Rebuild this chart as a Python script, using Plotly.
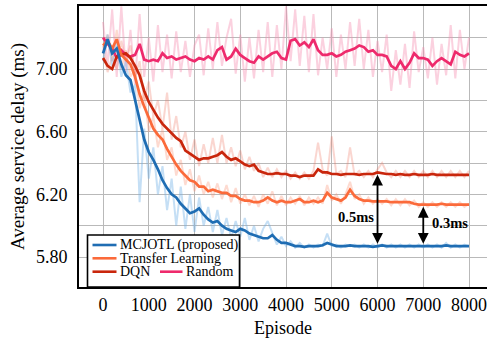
import plotly.graph_objects as go

# ---------------- data ----------------
EPISODES = list(range(0, 8001, 100))

mcjotl = [
    7.10, 7.19, 7.10, 7.13, 7.03, 6.96, 6.93, 6.80, 6.68, 6.55,
    6.47, 6.42, 6.36, 6.29, 6.24, 6.20, 6.18, 6.14, 6.11, 6.08,
    6.09, 6.11, 6.07, 6.04, 6.02, 6.03, 6.00, 5.98, 5.97, 5.96,
    5.98, 5.97, 5.95, 5.94, 5.93, 5.92, 5.92, 5.94, 5.91, 5.89,
    5.89, 5.88, 5.87, 5.87, 5.865, 5.87, 5.87, 5.87, 5.875, 5.89,
    5.88, 5.87, 5.87, 5.87, 5.875, 5.87, 5.87, 5.87, 5.87, 5.865,
    5.87, 5.875, 5.87, 5.87, 5.87, 5.87, 5.87, 5.87, 5.87, 5.87,
    5.87, 5.87, 5.87, 5.87, 5.87, 5.875, 5.87, 5.87, 5.87, 5.87, 5.87,
]
transfer = [
    7.15, 7.18, 7.13, 7.19, 7.09, 7.06, 7.03, 6.95, 6.84, 6.76,
    6.69, 6.62, 6.58, 6.55, 6.49, 6.44, 6.39, 6.35, 6.32, 6.29,
    6.28, 6.25, 6.25, 6.22, 6.23, 6.22, 6.21, 6.21, 6.19, 6.19,
    6.17, 6.16, 6.16, 6.15, 6.15, 6.16, 6.18, 6.16, 6.15, 6.16,
    6.15, 6.15, 6.16, 6.17, 6.15, 6.15, 6.16, 6.15, 6.16, 6.21,
    6.18, 6.17, 6.16, 6.18, 6.23, 6.19, 6.17, 6.16, 6.16, 6.155,
    6.155, 6.155, 6.155, 6.15, 6.15, 6.15, 6.15, 6.15, 6.14, 6.135,
    6.135, 6.135, 6.135, 6.135, 6.14, 6.135, 6.135, 6.135, 6.135, 6.135, 6.135,
]
dqn = [
    7.07, 7.02, 7.00, 7.08, 7.09, 7.10, 7.07, 7.02, 6.96, 6.86,
    6.79, 6.74, 6.69, 6.65, 6.62, 6.59, 6.56, 6.54, 6.48, 6.46,
    6.44, 6.42, 6.43, 6.43, 6.44, 6.45, 6.47, 6.44, 6.42, 6.43,
    6.41, 6.39, 6.38, 6.39, 6.35, 6.34, 6.33, 6.33, 6.335, 6.33,
    6.33, 6.32, 6.32, 6.31, 6.32, 6.32, 6.32, 6.36, 6.34, 6.34,
    6.33, 6.33, 6.325, 6.33, 6.33, 6.33, 6.325, 6.33, 6.33, 6.33,
    6.34, 6.335, 6.33, 6.33, 6.325, 6.33, 6.325, 6.325, 6.33, 6.325,
    6.325, 6.325, 6.33, 6.325, 6.325, 6.325, 6.325, 6.325, 6.325, 6.325, 6.325,
]
random_policy = [
    7.20, 7.16, 7.13, 7.07, 7.12, 7.09, 7.08, 7.09, 7.16, 7.06,
    7.05, 7.06, 7.05, 7.10, 7.07, 7.08, 7.06, 7.07, 7.08, 7.06,
    7.05, 7.07, 7.06, 7.08, 7.06, 7.12, 7.14, 7.06, 7.08, 7.13,
    7.09, 7.07, 7.05, 7.04, 7.08, 7.06, 7.08, 7.10, 7.11, 7.07,
    7.06, 7.18, 7.19, 7.15, 7.17, 7.14, 7.19, 7.12, 7.09, 7.09,
    7.10, 7.08, 7.09, 7.11, 7.12, 7.13, 7.15, 7.14, 7.11, 7.12,
    7.09, 7.09, 7.08, 7.02, 7.00, 7.05, 7.00, 7.04, 7.10, 7.07,
    7.07, 7.06, 7.02, 7.05, 7.07, 7.05, 7.03, 7.11, 7.09, 7.08, 7.10,
]

# raw (unsmoothed) curves drawn faintly behind
raw_mcjotl = [
    7.05, 7.22, 7.02, 7.18, 6.95, 7.05, 6.85, 6.90, 6.15, 6.62,
    6.30, 6.50, 6.20, 6.38, 6.10, 6.30, 6.00, 6.25, 5.98, 6.20,
    5.96, 6.18, 6.00, 6.12, 5.96, 6.10, 5.94, 6.05, 5.92, 6.03,
    5.93, 6.05, 5.91, 6.00, 5.90, 5.98, 6.03, 5.96, 5.88, 5.93,
    5.87, 5.90, 5.86, 5.89, 5.86, 5.88, 5.86, 5.88, 5.87, 5.95,
    5.87, 5.88, 5.86, 5.88, 5.87, 5.88, 5.86, 5.88, 5.86, 5.88,
    5.86, 5.88, 5.86, 5.88, 5.86, 5.88, 5.86, 5.88, 5.86, 5.88,
    5.86, 5.88, 5.86, 5.88, 5.86, 5.89, 5.86, 5.88, 5.86, 5.88, 5.87,
]
raw_transfer = [
    7.10, 7.22, 7.05, 7.25, 7.00, 7.12, 6.95, 7.00, 6.75, 6.85,
    6.60, 6.70, 6.50, 6.62, 6.42, 6.50, 6.32, 6.42, 6.26, 6.36,
    6.22, 6.32, 6.20, 6.28, 6.18, 6.27, 6.17, 6.26, 6.15, 6.24,
    6.14, 6.20, 6.13, 6.19, 6.12, 6.20, 6.14, 6.22, 6.13, 6.19,
    6.13, 6.18, 6.14, 6.19, 6.13, 6.18, 6.14, 6.18, 6.14, 6.26,
    6.16, 6.20, 6.14, 6.20, 6.28, 6.17, 6.20, 6.14, 6.18, 6.14,
    6.17, 6.14, 6.17, 6.13, 6.17, 6.13, 6.17, 6.13, 6.16, 6.12,
    6.15, 6.12, 6.15, 6.12, 6.15, 6.12, 6.15, 6.12, 6.15, 6.12, 6.14,
]
raw_dqn = [
    7.15, 6.98, 7.08, 7.00, 7.18, 7.05, 7.15, 6.95, 7.05, 6.80,
    6.92, 6.70, 6.80, 6.62, 6.85, 6.55, 6.70, 6.50, 6.60, 6.42,
    6.55, 6.38, 6.52, 6.40, 6.56, 6.40, 6.58, 6.40, 6.50, 6.38,
    6.48, 6.36, 6.44, 6.35, 6.40, 6.31, 6.37, 6.31, 6.36, 6.31,
    6.35, 6.30, 6.34, 6.30, 6.34, 6.30, 6.35, 6.53, 6.36, 6.32,
    6.57, 6.33, 6.35, 6.31, 6.50, 6.32, 6.35, 6.31, 6.35, 6.31,
    6.36, 6.40, 6.34, 6.31, 6.35, 6.31, 6.35, 6.31, 6.35, 6.31,
    6.35, 6.31, 6.35, 6.31, 6.35, 6.31, 6.35, 6.31, 6.35, 6.31, 6.35,
]
raw_random = [
    7.30, 7.02, 7.38, 6.95, 7.40, 6.98, 7.25, 6.90, 7.35, 6.95,
    7.20, 6.92, 7.28, 6.98, 7.22, 6.94, 7.24, 6.98, 7.18, 6.95,
    7.15, 7.22, 6.96, 7.26, 7.00, 7.30, 7.02, 7.20, 7.32, 6.97,
    7.22, 6.92, 7.20, 6.94, 7.25, 6.98, 7.30, 6.95, 7.28, 7.00,
    7.40, 7.05, 7.38, 7.02, 7.34, 6.98, 7.35, 6.96, 7.20, 7.00,
    7.26, 6.95, 7.22, 7.00, 7.30, 7.02, 7.32, 7.00, 7.25, 6.95,
    7.18, 6.98, 7.22, 6.86, 7.12, 6.90, 7.16, 6.88, 7.24, 6.98,
    7.14, 6.94, 7.20, 6.90, 7.16, 6.96, 7.28, 6.94, 7.25, 7.00, 7.20,
]

SERIES_NAMES = ["MCJOTL (proposed)", "Transfer Learning", "DQN", "Random"]
X_TICKS = [0, 1000, 2000, 3000, 4000, 5000, 6000, 7000, 8000]
X_TICK_TEXT = ["0", "1000", "2000", "3000", "4000", "5000", "6000", "7000", "8000"]
Y_TICKS = [5.8, 6.0, 6.2, 6.4, 6.6, 6.8, 7.0, 7.2]
Y_TICK_TEXT = ["5.80", "", "6.20", "", "6.60", "", "7.00", ""]
GAP_EPISODES = [6000, 7000]
GAP_LABELS = ["0.5ms", "0.3ms"]

for arr in (mcjotl, transfer, dqn, random_policy, raw_mcjotl, raw_transfer, raw_dqn, raw_random):
    assert len(arr) == len(EPISODES)

# ---------------- styling ----------------
C_BLUE = "#1f6db3"
C_TL = "#fb6a3a"
C_DQN = "#c9260c"
C_RAND = "#ee2a6c"
RAW = {
    "blue": "rgba(110,175,230,0.40)",
    "tl": "rgba(250,150,120,0.35)",
    "dqn": "rgba(240,120,100,0.30)",
    "rand": "rgba(245,140,175,0.40)",
}
FONT = "Liberation Serif, Times New Roman, Times, DejaVu Serif, serif"

fig = go.Figure()
for vals, col in ((raw_random, RAW["rand"]), (raw_dqn, RAW["dqn"]),
                  (raw_transfer, RAW["tl"]), (raw_mcjotl, RAW["blue"])):
    fig.add_trace(go.Scatter(x=EPISODES, y=vals, mode="lines",
                             line=dict(color=col, width=2), showlegend=False,
                             hoverinfo="skip"))

for vals, col, name in ((random_policy, C_RAND, SERIES_NAMES[3]),
                        (dqn, C_DQN, SERIES_NAMES[2]),
                        (transfer, C_TL, SERIES_NAMES[1]),
                        (mcjotl, C_BLUE, SERIES_NAMES[0])):
    fig.add_trace(go.Scatter(x=EPISODES, y=vals, mode="lines", name=name,
                             line=dict(color=col, width=2.7), showlegend=False))

# ---- gap arrows (from the series values) ----
top_series = [dqn, transfer]
for ep, top, lab in zip(GAP_EPISODES, top_series, GAP_LABELS):
    i = EPISODES.index(ep)
    fig.add_annotation(x=ep, y=mcjotl[i] + 0.015, ax=ep, ay=top[i] - 0.005,
                       xref="x", yref="y", axref="x", ayref="y", text="",
                       showarrow=True, arrowhead=2, arrowside="end+start",
                       arrowsize=1.2, arrowwidth=1.8, arrowcolor="black")
fig.add_annotation(x=5530, y=6.055, text="<b>" + GAP_LABELS[0] + "</b>", showarrow=False,
                   font=dict(family=FONT, size=14.5, color="black"))
fig.add_annotation(x=7590, y=6.017, text="<b>" + GAP_LABELS[1] + "</b>", showarrow=False,
                   font=dict(family=FONT, size=14.5, color="black"))

# ---- legend box (manual, three rows) ----
PW, PH = 408.0, 281.0
def px(xp):
    return (xp - 79) / PW
def py(yp):
    return (287 - yp) / PH

fig.add_shape(type="rect", xref="paper", yref="paper",
              x0=px(87.5), x1=px(239.5), y0=py(287), y1=py(235),
              line=dict(color="black", width=1.6), fillcolor="white", layer="above")
legend_rows = [
    (SERIES_NAMES[0], C_BLUE, 92.5, 116.5, 119, 245.0),
    (SERIES_NAMES[1], C_TL, 92.5, 116.5, 119, 258.3),
    (SERIES_NAMES[2], C_DQN, 92.5, 116.5, 119, 271.7),
    (SERIES_NAMES[3], C_RAND, 160, 182.5, 184.5, 271.7),
]
for name, col, lx0, lx1, tx, ty in legend_rows:
    fig.add_shape(type="line", xref="paper", yref="paper",
                  x0=px(lx0), x1=px(lx1), y0=py(ty), y1=py(ty),
                  line=dict(color=col, width=2.6), layer="above")
    fig.add_annotation(xref="paper", yref="paper", x=px(tx), y=py(ty),
                       xanchor="left", yanchor="middle", text=name, showarrow=False,
                       borderpad=0,
                       font=dict(family=FONT, size=14, color="black"))

axis_common = dict(
    showgrid=True, gridcolor="#b9b9b9", gridwidth=1,
    showline=True, linecolor="black", linewidth=2, mirror=True,
    ticks="", zeroline=False, automargin=False, ticklabeloverflow="allow",
    tickfont=dict(family=FONT, size=18, color="black"),
)
fig.update_layout(
    width=487, height=338,
    margin=dict(l=79, r=0, t=6, b=51),
    paper_bgcolor="white", plot_bgcolor="white",
    font=dict(family=FONT, color="black"),
    showlegend=False,
    xaxis=dict(range=[-525, 8393], tickvals=X_TICKS, ticktext=X_TICK_TEXT,
               ticklabelstandoff=0,
               title=dict(text="Episode", font=dict(family=FONT, size=18), standoff=10),
               **axis_common),
    yaxis=dict(range=[5.609, 7.402], tickvals=Y_TICKS, ticktext=Y_TICK_TEXT,
               ticklabelstandoff=6,
               title=dict(text="Average service delay (ms)", font=dict(family=FONT, size=19), standoff=6),
               **axis_common),
)

fig.write_html("out.html", config={"displayModeBar": False},
               post_script="document.body.style.margin='0';document.body.style.padding='0';")
